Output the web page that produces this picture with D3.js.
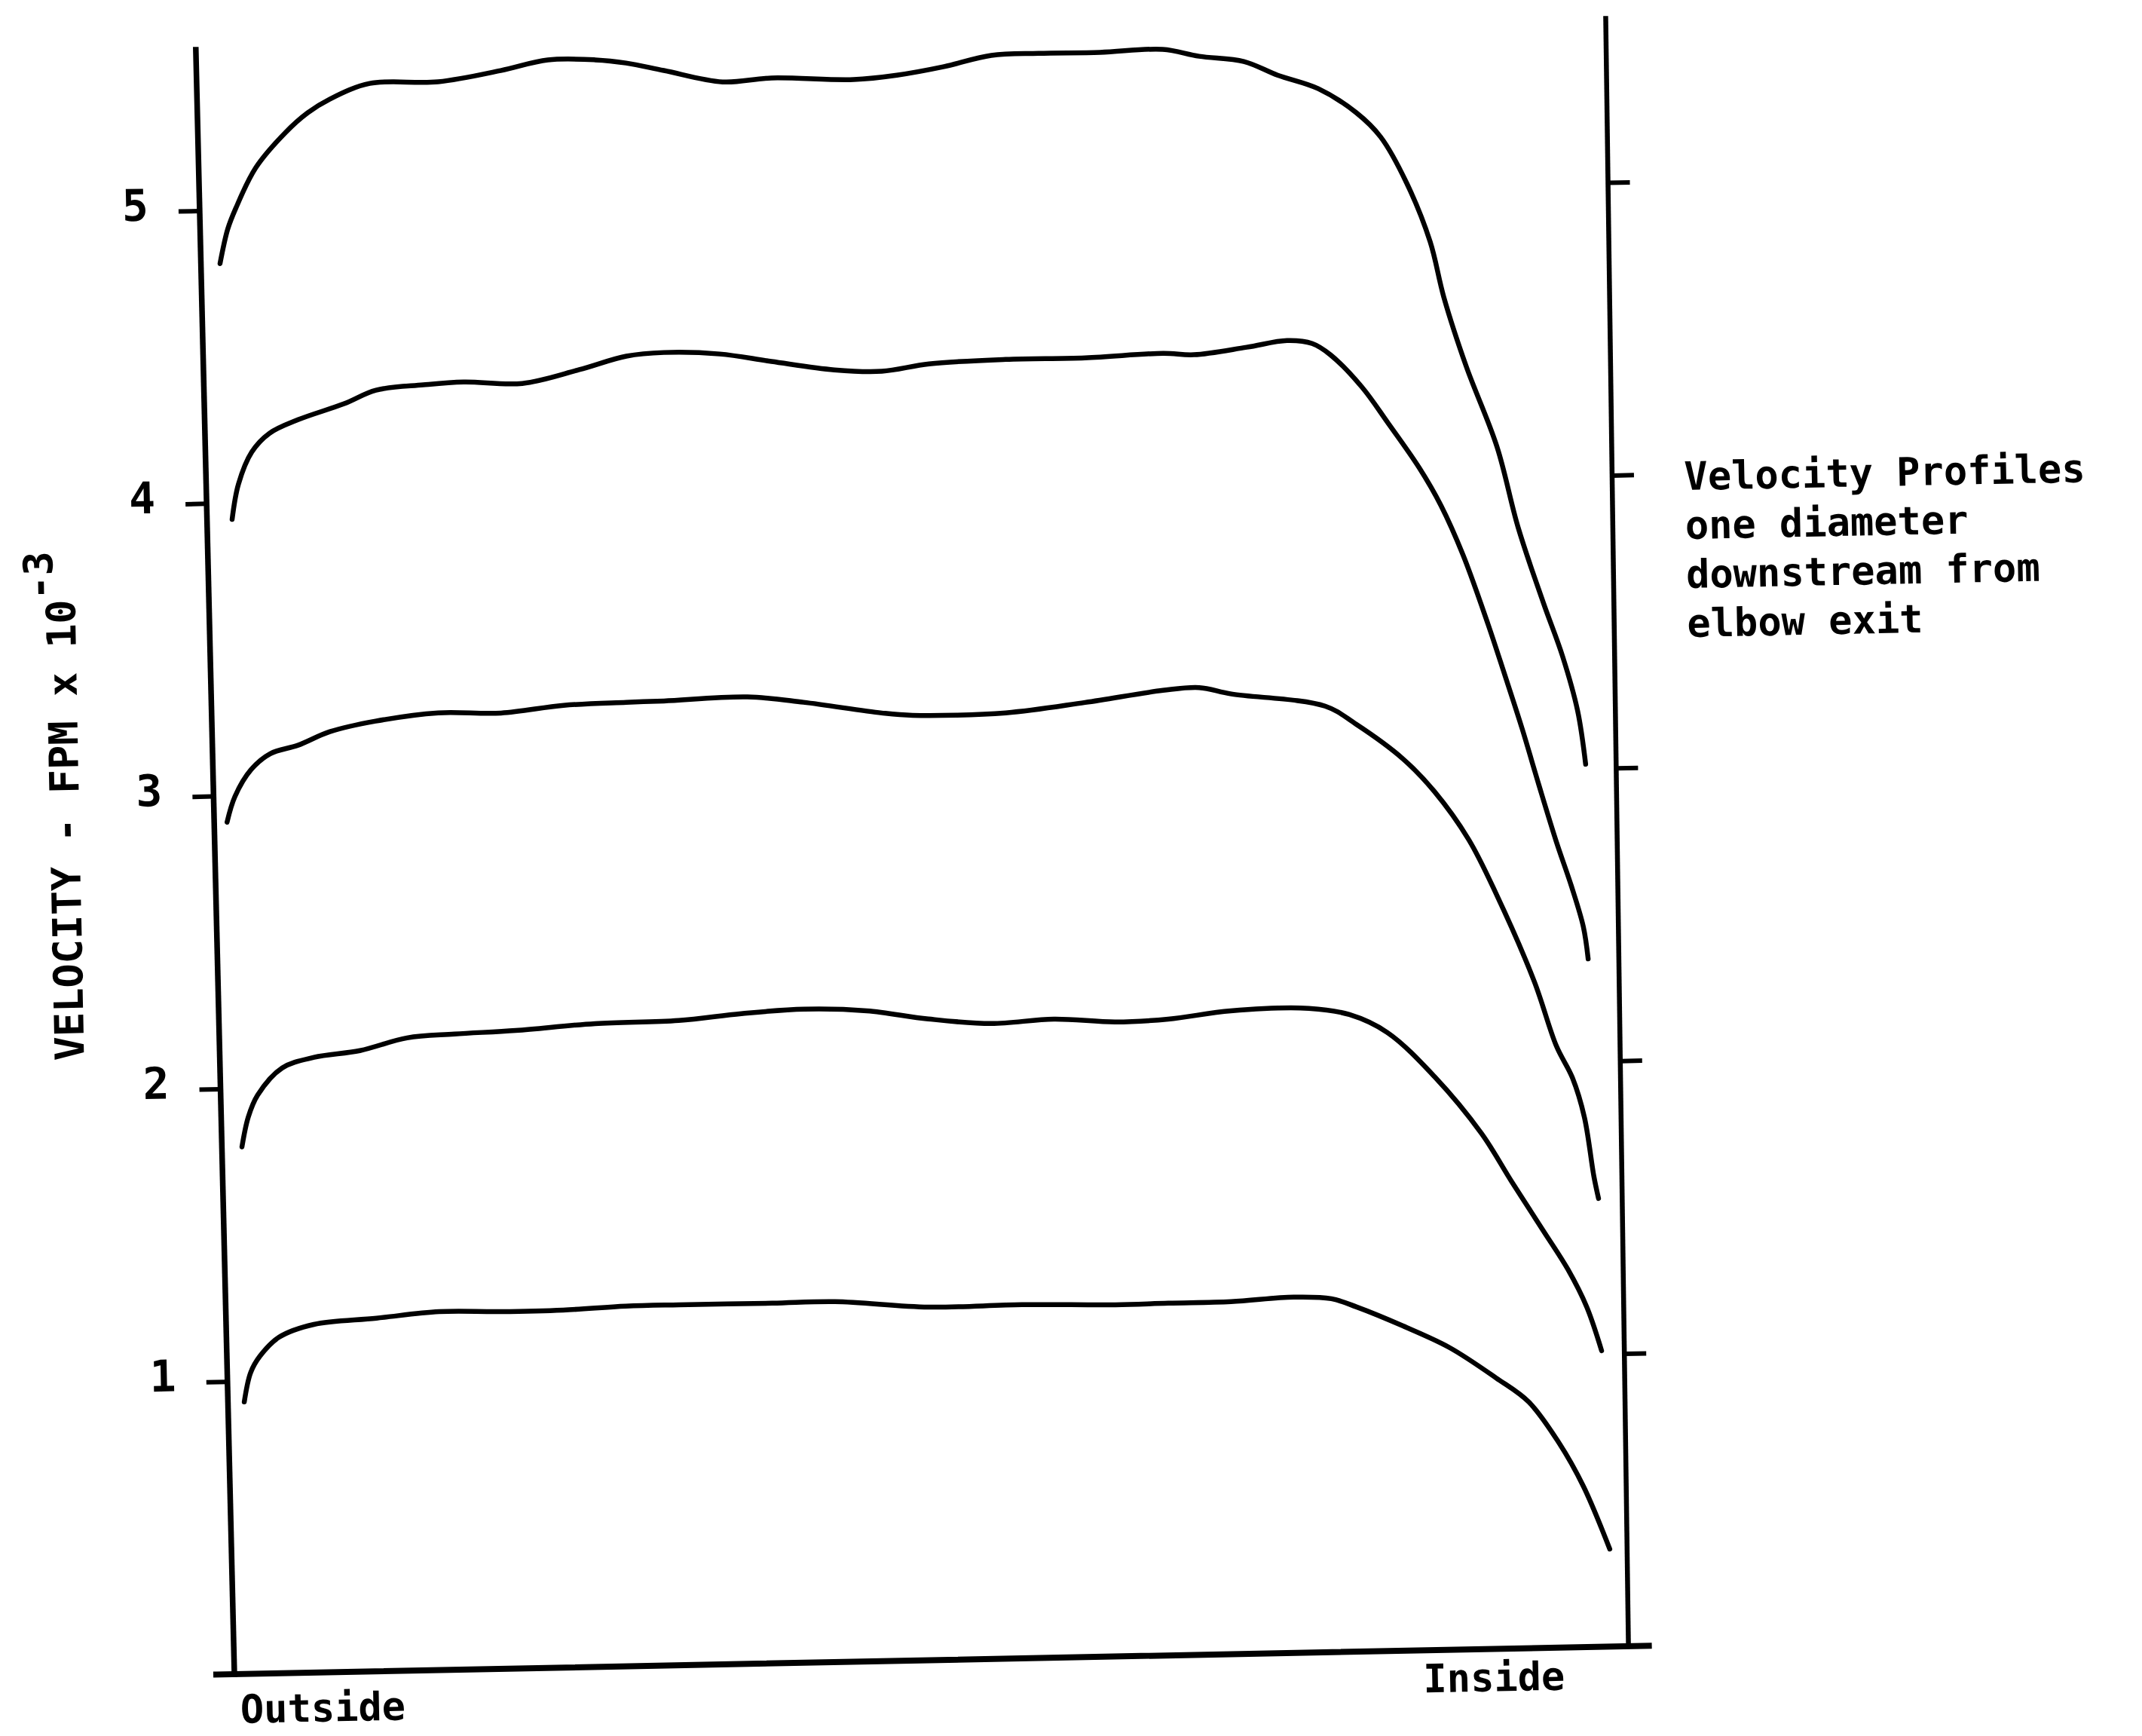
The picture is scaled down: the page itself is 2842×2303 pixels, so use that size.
<!DOCTYPE html>
<html>
<head>
<meta charset="utf-8">
<script src="https://cdn.jsdelivr.net/npm/d3@7"></script>
<style>
  html, body { margin: 0; padding: 0; background: #fff; }
  svg { display: block; }
  text { font-family: "DejaVu Sans Mono", "Liberation Mono", monospace; font-weight: bold; fill: #000; }
</style>
</head>
<body>
<svg id="chart" width="2842" height="2303"></svg>
<script>
// Velocity profiles across the pipe one diameter downstream of the elbow.
// x: traverse position, 0 = outside wall, 1 = inside wall; y: velocity in FPM x 10^-3.
const profile5 = [[0.010,4.818],[0.016,4.935],[0.022,5.005],[0.037,5.143],[0.059,5.262],[0.075,5.327],[0.091,5.372],[0.120,5.423],[0.169,5.424],[0.214,5.458],[0.248,5.491],[0.282,5.488],[0.304,5.475],[0.331,5.447],[0.373,5.404],[0.408,5.414],[0.467,5.403],[0.498,5.415],[0.532,5.441],[0.566,5.476],[0.600,5.480],[0.644,5.479],[0.689,5.485],[0.715,5.459],[0.747,5.438],[0.771,5.389],[0.800,5.340],[0.827,5.255],[0.844,5.171],[0.862,5.012],[0.878,4.810],[0.887,4.620],[0.902,4.383],[0.923,4.105],[0.937,3.828],[0.954,3.569],[0.967,3.385],[0.977,3.198],[0.982,3.015]];
const profile4 = [[0.015,3.944],[0.020,4.063],[0.030,4.172],[0.043,4.235],[0.064,4.280],[0.097,4.331],[0.120,4.375],[0.154,4.390],[0.183,4.397],[0.225,4.388],[0.266,4.431],[0.300,4.474],[0.327,4.484],[0.367,4.475],[0.404,4.446],[0.449,4.413],[0.483,4.405],[0.517,4.427],[0.572,4.437],[0.629,4.437],[0.685,4.447],[0.707,4.440],[0.745,4.462],[0.774,4.482],[0.792,4.470],[0.805,4.430],[0.827,4.318],[0.845,4.195],[0.867,4.038],[0.882,3.908],[0.897,3.739],[0.914,3.500],[0.925,3.330],[0.937,3.140],[0.948,2.950],[0.960,2.750],[0.970,2.600],[0.978,2.460],[0.981,2.350]];
const profile3 = [[0.007,2.910],[0.013,2.997],[0.025,3.088],[0.039,3.141],[0.059,3.168],[0.082,3.212],[0.115,3.245],[0.160,3.269],[0.205,3.264],[0.250,3.286],[0.295,3.292],[0.322,3.294],[0.382,3.302],[0.422,3.280],[0.478,3.238],[0.500,3.228],[0.567,3.230],[0.624,3.260],[0.680,3.296],[0.706,3.303],[0.729,3.279],[0.796,3.231],[0.818,3.167],[0.851,3.046],[0.873,2.933],[0.897,2.766],[0.916,2.578],[0.942,2.277],[0.957,2.054],[0.968,1.945],[0.976,1.810],[0.982,1.606],[0.985,1.531]];
const profile2 = [[0.013,1.800],[0.018,1.902],[0.025,1.976],[0.043,2.067],[0.066,2.101],[0.099,2.121],[0.133,2.161],[0.167,2.171],[0.211,2.179],[0.268,2.197],[0.328,2.202],[0.373,2.221],[0.418,2.232],[0.463,2.222],[0.507,2.190],[0.552,2.170],[0.597,2.181],[0.641,2.167],[0.679,2.173],[0.724,2.197],[0.780,2.200],[0.809,2.176],[0.836,2.112],[0.869,1.959],[0.902,1.761],[0.923,1.594],[0.945,1.424],[0.962,1.291],[0.975,1.161],[0.985,1.011]];
const profile1 = [[0.011,0.929],[0.016,1.029],[0.023,1.085],[0.037,1.148],[0.062,1.189],[0.107,1.206],[0.152,1.224],[0.196,1.220],[0.241,1.221],[0.286,1.230],[0.324,1.231],[0.391,1.230],[0.436,1.231],[0.503,1.206],[0.570,1.208],[0.637,1.201],[0.675,1.203],[0.720,1.204],[0.765,1.215],[0.792,1.207],[0.810,1.177],[0.843,1.109],[0.876,1.032],[0.909,0.925],[0.932,0.841],[0.953,0.700],[0.970,0.549],[0.988,0.333]];

const yTicks = [1, 2, 3, 4, 5];
const yTickLabels = ["1", "2", "3", "4", "5"];
const wallLabels = ["Outside", "Inside"];
const yTitle = "VELOCITY - FPM x 10";
const yTitleExponent = "-3";
const noteLines = ["Velocity Profiles", "one diameter", "downstream from", "elbow exit"];

const W = 2842, H = 2303;
const plotW = 1850;      // wall-to-wall width
const unit = 388.4;      // pixels per 1000 FPM
const yMax = 5.55;       // top of the vertical axes

const svg = d3.select("#chart");
svg.append("rect").attr("width", W).attr("height", H).attr("fill", "#fff");

// The sheet sits slightly askew, so the plot frame is tilted about its origin.
const g = svg.append("g").attr("transform", "translate(311,2221) rotate(-1.15)");

const x = d3.scaleLinear().domain([0, 1]).range([0, plotW]);
const y = d3.scaleLinear().domain([0, yMax]).range([0, -yMax * unit]);

const axisStroke = 7.5;

// Hand-ruled verticals lean a little: left one outward, right one outward.
const leftFrame = g.append("g").attr("transform", "skewX(0.21)");
const rightFrame = g.append("g").attr("transform", `translate(${x(1)},0) skewX(-0.35)`);

// Left axis with ticks
const gl = leftFrame.append("g")
  .call(d3.axisLeft(y).tickValues(yTicks).tickSize(28).tickSizeOuter(0).tickFormat(""));
gl.select(".domain").remove();
gl.selectAll(".tick line").attr("stroke", "#000").attr("stroke-width", 6);
leftFrame.append("line").attr("x1", 0).attr("x2", 0).attr("y1", y(0)).attr("y2", y(yMax))
  .attr("stroke", "#000").attr("stroke-width", axisStroke).attr("stroke-linecap", "square");

// Right axis ticks (unlabelled)
const gr = rightFrame.append("g")
  .call(d3.axisRight(y).tickValues(yTicks).tickSize(29).tickSizeOuter(0).tickFormat(""));
gr.select(".domain").remove();
gr.selectAll(".tick line").attr("stroke", "#000").attr("stroke-width", 6);
rightFrame.append("line").attr("x1", 0).attr("x2", 0).attr("y1", y(0)).attr("y2", y(yMax + 0.01))
  .attr("stroke", "#000").attr("stroke-width", axisStroke - 1).attr("stroke-linecap", "square");

// Baseline
g.append("line").attr("x1", x(0) - 24).attr("x2", x(1) + 27).attr("y1", y(0)).attr("y2", y(0))
  .attr("stroke", "#000").attr("stroke-width", axisStroke + 0.5).attr("stroke-linecap", "square");

// Tick labels
g.selectAll(".ylab").data(yTicks).join("text")
  .attr("class", "ylab")
  .attr("x", d => -68 + 0.21 * Math.PI / 180 * y(d))
  .attr("y", d => y(d))
  .attr("dy", "0.2em")
  .attr("text-anchor", "end")
  .style("font-size", "58px")
  .text((d, i) => yTickLabels[i]);

// Axis title, reading upward
const title = g.append("text")
  .attr("transform", "translate(-183,-818) rotate(-90)")
  .style("font-size", "53.5px");
title.append("tspan").text(yTitle);
title.append("tspan").attr("dy", -29).text(yTitleExponent);

// Wall labels
g.append("text").attr("x", x(0) + 7).attr("y", 65).style("font-size", "52px").text(wallLabels[0]);
g.append("text").attr("x", x(0) + 1577).attr("y", 56).style("font-size", "52px").text(wallLabels[1]);

// Note beside the right axis
g.selectAll(".note").data(noteLines).join("text")
  .attr("class", "note")
  .attr("x", x(1) + 105)
  .attr("y", (d, i) => -1532 + i * 65)
  .style("font-size", "52px")
  .text(d => d);

// Profiles
const line = d3.line()
  .x(d => x(d[0]))
  .y(d => y(d[1]))
  .curve(d3.curveCatmullRom.alpha(0.5));

g.selectAll(".profile").data([profile1, profile2, profile3, profile4, profile5]).join("path")
  .attr("class", "profile")
  .attr("d", line)
  .attr("fill", "none")
  .attr("stroke", "#000")
  .attr("stroke-width", 6.5)
  .attr("stroke-linecap", "round")
  .attr("stroke-linejoin", "round");
</script>
</body>
</html>
